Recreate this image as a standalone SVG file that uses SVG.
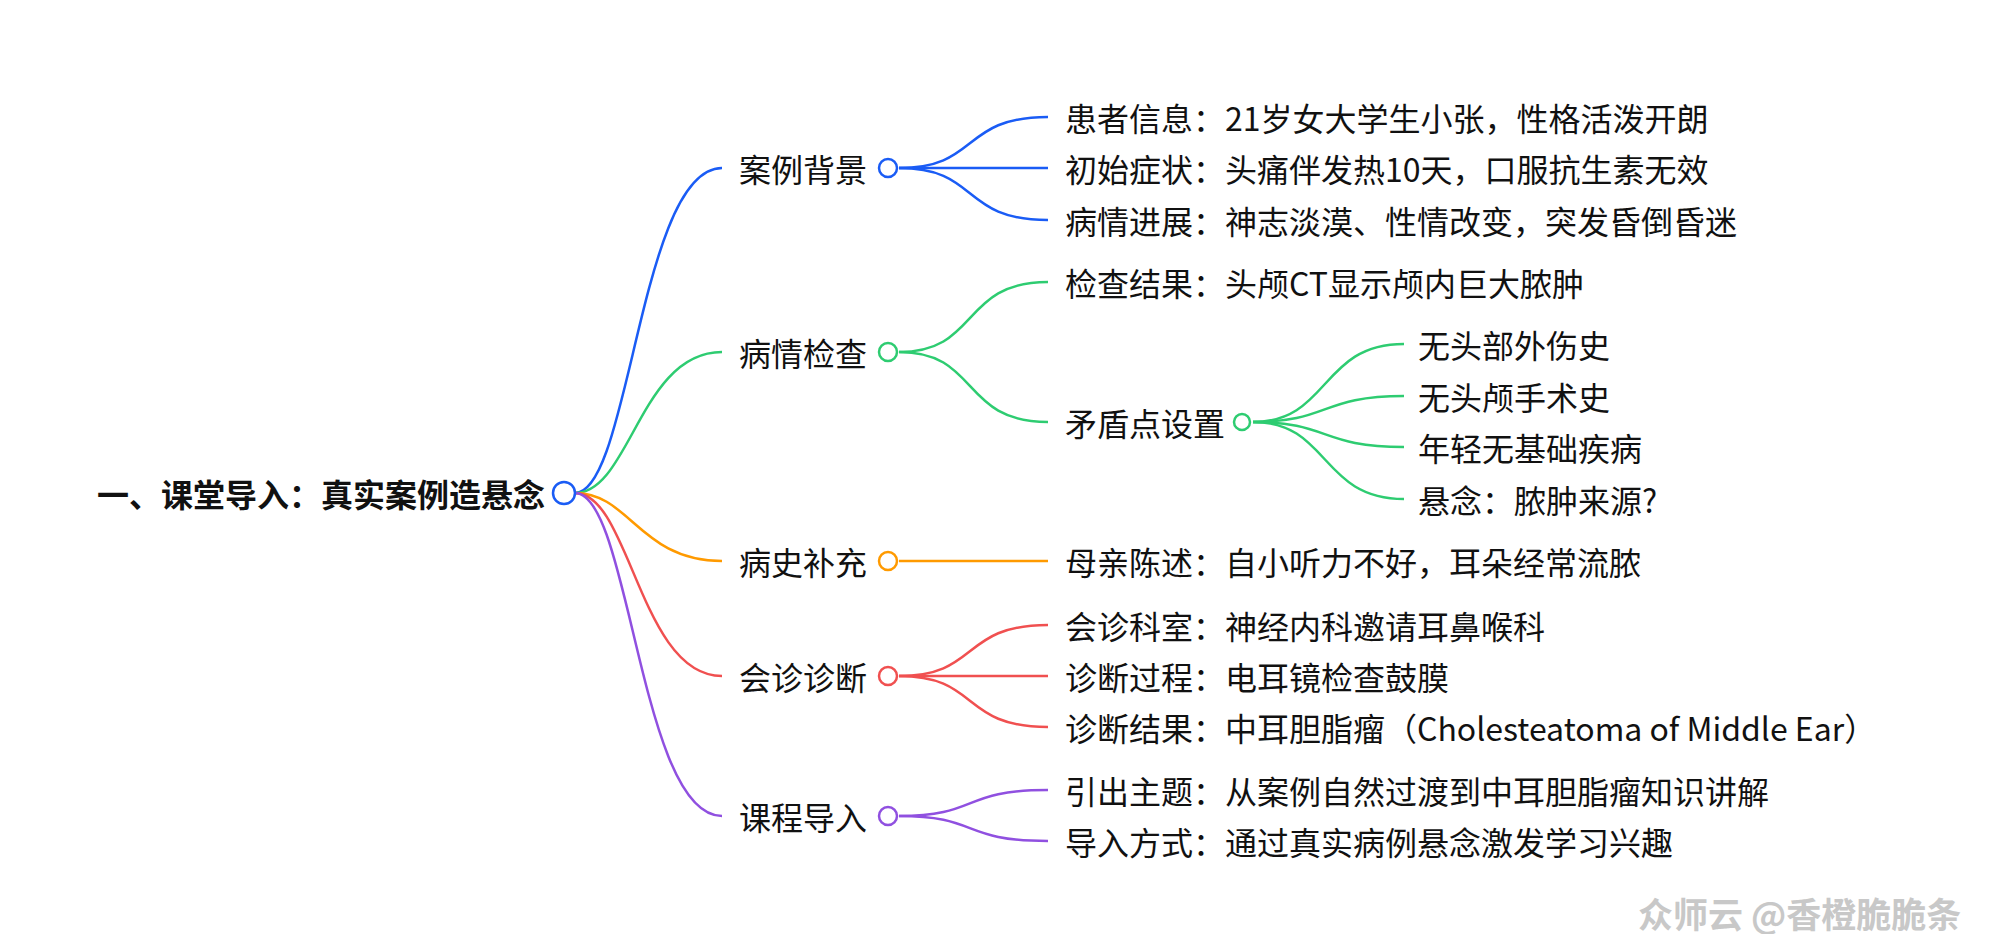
<svg xmlns="http://www.w3.org/2000/svg" width="1992" height="934" viewBox="0 0 1992 934">
<style>
text{font-family:"Noto Sans CJK SC","Noto Sans",sans-serif;dominant-baseline:central;fill:#111}
.r{font-size:32px;font-weight:bold}
.l1{font-size:32px}
.l2{font-size:32px}
.e{fill:none;stroke-width:2.5}
.c{fill:#fff;stroke-width:2.5}
.b{stroke:#1a5cf5}.g{stroke:#2ecc71}.o{stroke:#ff9a00}.rd{stroke:#f05050}.p{stroke:#9050e0}
</style>
<rect width="1992" height="934" fill="#fff"/>
<g id="connectors">
<path class="e b" d="M575,493 C630,493 640,168 722,168"/>
<path class="e g" d="M575,493 C630,493 640,352 722,352"/>
<path class="e o" d="M575,493 C630,493 640,561 722,561"/>
<path class="e rd" d="M575,493 C630,493 640,676 722,676"/>
<path class="e p" d="M575,493 C630,493 640,816 722,816"/>
<path class="e b" d="M899,168 C980,168 960,117 1048,117"/>
<path class="e b" d="M899,168 L1048,168"/>
<path class="e b" d="M899,168 C980,168 960,220 1048,220"/>
<path class="e g" d="M899,352 C980,352 960,282 1048,282"/>
<path class="e g" d="M899,352 C980,352 960,422 1048,422"/>
<path class="e g" d="M1253,422 C1330,422 1320,344 1404,344"/>
<path class="e g" d="M1253,422 C1330,422 1320,396 1404,396"/>
<path class="e g" d="M1253,422 C1330,422 1320,447 1404,447"/>
<path class="e g" d="M1253,422 C1330,422 1320,499 1404,499"/>
<path class="e o" d="M899,561 L1048,561"/>
<path class="e rd" d="M899,676 C980,676 960,625 1048,625"/>
<path class="e rd" d="M899,676 L1048,676"/>
<path class="e rd" d="M899,676 C980,676 960,727 1048,727"/>
<path class="e p" d="M899,816 C980,816 960,790 1048,790"/>
<path class="e p" d="M899,816 C980,816 960,841 1048,841"/>
</g>
<g id="root"><text class="r" x="97" y="493">一、课堂导入：真实案例造悬念</text><circle class="c b" cx="564" cy="493" r="11"/></g>
<g id="n1"><text class="l1" x="739" y="168">案例背景</text><circle class="c b" cx="888" cy="168" r="9"/></g>
<g id="n2"><text class="l1" x="739" y="352">病情检查</text><circle class="c g" cx="888" cy="352" r="9"/></g>
<g id="n3"><text class="l1" x="739" y="561">病史补充</text><circle class="c o" cx="888" cy="561" r="9"/></g>
<g id="n4"><text class="l1" x="739" y="676">会诊诊断</text><circle class="c rd" cx="888" cy="676" r="9"/></g>
<g id="n5"><text class="l1" x="739" y="816">课程导入</text><circle class="c p" cx="888" cy="816" r="9"/></g>
<g id="leaves">
<text class="l2" x="1065" y="117">患者信息：21岁女大学生小张，性格活泼开朗</text>
<text class="l2" x="1065" y="168">初始症状：头痛伴发热10天，口服抗生素无效</text>
<text class="l2" x="1065" y="220">病情进展：神志淡漠、性情改变，突发昏倒昏迷</text>
<text class="l2" x="1065" y="282">检查结果：头颅CT显示颅内巨大脓肿</text>
<g id="n2b"><text class="l2" x="1065" y="422">矛盾点设置</text><circle class="c g" cx="1242" cy="422" r="8"/></g>
<text class="l2" x="1418" y="344">无头部外伤史</text>
<text class="l2" x="1418" y="396">无头颅手术史</text>
<text class="l2" x="1418" y="447">年轻无基础疾病</text>
<text class="l2" x="1418" y="499">悬念：脓肿来源?</text>
<text class="l2" x="1065" y="561">母亲陈述：自小听力不好，耳朵经常流脓</text>
<text class="l2" x="1065" y="625">会诊科室：神经内科邀请耳鼻喉科</text>
<text class="l2" x="1065" y="676">诊断过程：电耳镜检查鼓膜</text>
<text class="l2" x="1065" y="727">诊断结果：中耳胆脂瘤（Cholesteatoma of Middle Ear）</text>
<text class="l2" x="1065" y="790">引出主题：从案例自然过渡到中耳胆脂瘤知识讲解</text>
<text class="l2" x="1065" y="841">导入方式：通过真实病例悬念激发学习兴趣</text>
</g>
<text x="1638" y="912" style="font-size:35px;fill:#c8c8c8;font-weight:bold">众师云 @香橙脆脆条</text>
</svg>
